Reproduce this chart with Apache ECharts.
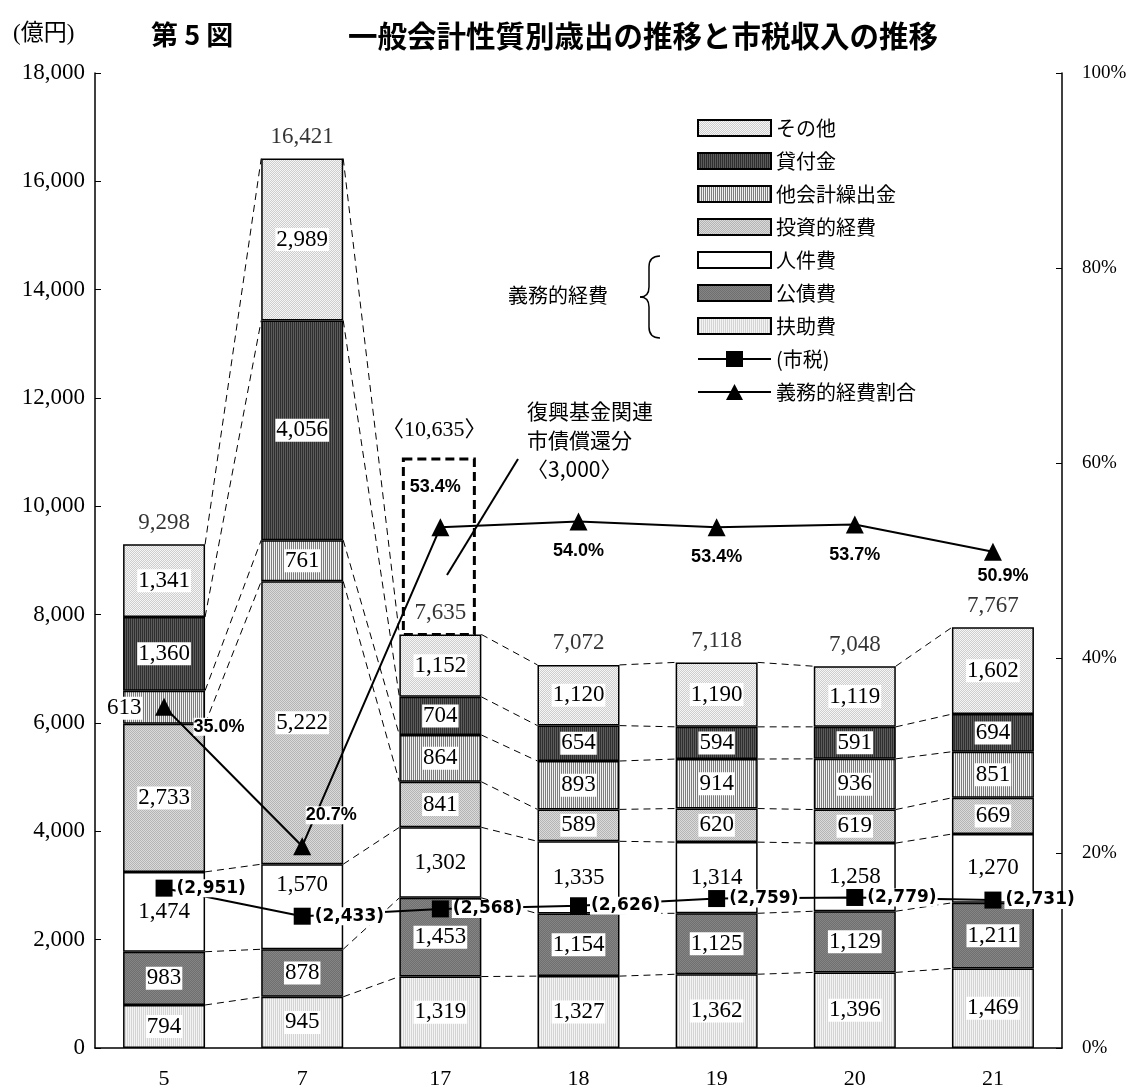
<!DOCTYPE html>
<html>
<head>
<meta charset="utf-8">
<title>第5図 一般会計性質別歳出の推移と市税収入の推移</title>
<script src="https://cdn.jsdelivr.net/npm/echarts@6/dist/echarts.min.js"></script>
<style>
  html, body { margin: 0; padding: 0; background: #fff; }
  #chart { width: 1136px; height: 1090px; }
</style>
</head>
<body>
<div id="chart"></div>
<script>
// 年度
const categories = ['5', '7', '17', '18', '19', '20', '21']
// 性質別歳出（億円） 下から積み上げ
const fujohi = [794, 945, 1319, 1327, 1362, 1396, 1469]
const kosaihi = [983, 878, 1453, 1154, 1125, 1129, 1211]
const jinkenhi = [1474, 1570, 1302, 1335, 1314, 1258, 1270]
const toshiteki = [2733, 5222, 841, 589, 620, 619, 669]
const kuridashi = [613, 761, 864, 893, 914, 936, 851]
const kashitsuke = [1360, 4056, 704, 654, 594, 591, 694]
const sonota = [1341, 2989, 1152, 1120, 1190, 1119, 1602]
const totals = [9298, 16421, 7635, 7072, 7118, 7048, 7767]
// 市税（億円）と義務的経費割合（%）
const shizei = [2951, 2433, 2568, 2626, 2759, 2779, 2731]
const gimuRatio = [35.0, 20.7, 53.4, 54.0, 53.4, 53.7, 50.9]
// 復興基金関連市債償還分
const fukkoYear = '17'
const fukkoAmount = 3000
const fukkoTotal = 10635
// 軸
const yMax = 18000
const yStep = 2000
const pctMax = 100
const pctStep = 20

const barW = 82
const serif = "'Liberation Serif', 'Noto Sans CJK JP', serif"
const jp = "'Noto Sans CJK JP', sans-serif"
const sans = "'Liberation Sans', Arial, sans-serif"
const sansWide = "'DejaVu Sans', sans-serif"

function fmt(v) {
  return String(v).replace(/\B(?=(\d{3})+(?!\d))/g, ',')
}

function pattern(w, h, cells) {
  const c = document.createElement('canvas')
  c.width = w
  c.height = h
  const ctx = c.getContext('2d')
  for (let y = 0; y < h; y++) {
    for (let x = 0; x < w; x++) {
      ctx.fillStyle = cells[y][x]
      ctx.fillRect(x, y, 1, 1)
    }
  }
  return { image: c, repeat: 'repeat' }
}

const fills = {
  fujohi: pattern(2, 1, [['#f4f4f4', '#d4d4d4']]),
  kosaihi: pattern(2, 2, [['#858585', '#6f6f6f'], ['#6f6f6f', '#858585']]),
  jinkenhi: '#ffffff',
  toshiteki: pattern(2, 2, [['#b4b4b4', '#dadada'], ['#dadada', '#b4b4b4']]),
  kuridashi: pattern(2, 1, [['#f0f0f0', '#7c7c7c']]),
  kashitsuke: pattern(2, 1, [['#2e2e2e', '#5c5c5c']]),
  sonota: pattern(2, 2, [['#f6f6f6', '#cdcdcd'], ['#cdcdcd', '#f6f6f6']]),
}

const stackDefs = [
  { name: '扶助費', data: fujohi, color: fills.fujohi },
  { name: '公債費', data: kosaihi, color: fills.kosaihi },
  { name: '人件費', data: jinkenhi, color: fills.jinkenhi },
  { name: '投資的経費', data: toshiteki, color: fills.toshiteki },
  { name: '他会計繰出金', data: kuridashi, color: fills.kuridashi },
  { name: '貸付金', data: kashitsuke, color: fills.kashitsuke },
  { name: 'その他', data: sonota, color: fills.sonota },
]

// 各年度の積み上げ上端（系列線用）
const cumulative = categories.map((c, i) => {
  let s = 0
  return stackDefs.map(d => (s += d.data[i]))
})

const barLabel = {
  show: true,
  position: 'inside',
  fontFamily: serif,
  fontSize: 23,
  color: '#000',
  backgroundColor: '#fff',
  padding: [0, 1, 0, 1],
  formatter: p => fmt(p.value),
}

// 個別にずらすラベル
const labelTweaks = {
  '他会計繰出金:0': { position: 'insideLeft', offset: [-22, 1] },
  '人件費:1': { offset: [0, -22] },
}

const barSeries = stackDefs.map(d => ({
  name: d.name,
  type: 'bar',
  stack: 'total',
  barWidth: barW,
  z: 3,
  itemStyle: { color: d.color, borderColor: '#000', borderWidth: 1.5 },
  label: barLabel,
  data: d.data.map((v, i) => {
    const tweak = labelTweaks[d.name + ':' + i]
    return tweak ? { value: v, label: tweak } : v
  }),
}))

// 系列線（破線）
const connectorSeries = {
  type: 'custom',
  silent: true,
  z: 1,
  data: categories.slice(0, -1).map((c, i) => [i]),
  encode: { x: 0 },
  renderItem: (params, api) => {
    const i = api.value(0)
    const children = cumulative[i].map((v, k) => {
      const p0 = api.coord([i, v])
      const p1 = api.coord([i + 1, cumulative[i + 1][k]])
      return {
        type: 'line',
        shape: { x1: p0[0] + barW / 2, y1: p0[1], x2: p1[0] - barW / 2, y2: p1[1] },
        style: { stroke: '#000', lineWidth: 1, lineDash: [7, 5] },
      }
    })
    return { type: 'group', children }
  },
}

// 復興基金関連市債償還分の破線枠
const fukkoIdx = categories.indexOf(fukkoYear)
const fukkoSeries = {
  type: 'custom',
  silent: true,
  z: 6,
  data: [[fukkoIdx, fukkoTotal - fukkoAmount, fukkoTotal]],
  encode: { x: 0, y: [1, 2] },
  renderItem: (params, api) => {
    const lo = api.coord([api.value(0), api.value(1)])
    const hi = api.coord([api.value(0), api.value(2)])
    return {
      type: 'group',
      children: [
        {
          type: 'rect',
          shape: { x: lo[0] - 37, y: hi[1] - 13, width: 71, height: lo[1] - hi[1] + 13 },
          style: { fill: 'none', stroke: '#000', lineWidth: 3, lineDash: [9, 5] },
        },
        {
          type: 'text',
          x: lo[0] - 6,
          y: hi[1] - 42,
          style: {
            text: '〈' + fmt(api.value(2)) + '〉',
            font: '22px ' + serif,
            fill: '#000',
            align: 'center',
            verticalAlign: 'middle',
          },
        },
      ],
    }
  },
}

const totalSeries = {
  type: 'scatter',
  symbolSize: 0,
  silent: true,
  z: 4,
  label: {
    show: true,
    position: 'top',
    distance: 10,
    fontFamily: serif,
    fontSize: 23,
    color: '#000',
    formatter: p => fmt(p.value),
  },
  data: totals,
}

const shizeiSeries = {
  name: '(市税)',
  type: 'line',
  z: 8,
  symbol: 'rect',
  symbolSize: 17,
  itemStyle: { color: '#000' },
  lineStyle: { color: '#000', width: 2 },
  label: {
    show: true,
    position: 'right',
    distance: 3,
    fontFamily: sansWide,
    fontWeight: 'bold',
    fontSize: 17,
    color: '#000',
    backgroundColor: '#fff',
    padding: [1, 1, 0, 1],
    formatter: p => '(' + fmt(p.value) + ')',
  },
  data: shizei,
}

// 割合ラベルの位置（マーカーからのずれ）
const ratioOffsets = [[55, 20], [29, -31], [-5, -40], [0, 30], [0, 30], [0, 31], [10, 24]]
const ratioSeries = {
  name: '義務的経費割合',
  type: 'line',
  yAxisIndex: 1,
  z: 8,
  symbol: 'triangle',
  symbolSize: 18,
  itemStyle: { color: '#000' },
  lineStyle: { color: '#000', width: 2 },
  label: {
    show: true,
    position: 'inside',
    fontFamily: sans,
    fontWeight: 'bold',
    fontSize: 18,
    color: '#000',
    formatter: p => p.value.toFixed(1) + '%',
  },
  data: gimuRatio.map((v, i) => ({
    value: v,
    label: { offset: ratioOffsets[i], backgroundColor: i < 2 ? '#fff' : 'transparent' },
  })),
}

// 義務的経費の括弧
const brace = [
  { type: 'bezierCurve', shape: { x1: 660, y1: 256, cpx1: 649, cpy1: 256, x2: 649, y2: 267 } },
  { type: 'line', shape: { x1: 649, y1: 267, x2: 649, y2: 287 } },
  { type: 'bezierCurve', shape: { x1: 649, y1: 287, cpx1: 649, cpy1: 297, x2: 640, y2: 297 } },
  { type: 'bezierCurve', shape: { x1: 640, y1: 297, cpx1: 649, cpy1: 297, x2: 649, y2: 307 } },
  { type: 'line', shape: { x1: 649, y1: 307, x2: 649, y2: 327 } },
  { type: 'bezierCurve', shape: { x1: 649, y1: 327, cpx1: 649, cpy1: 338, x2: 660, y2: 338 } },
].map(e => Object.assign(e, { style: { fill: 'none', stroke: '#000', lineWidth: 1.5 } }))

// 凡例アイコン（線＋大きめの記号）
const squareIcon = 'path://M0,7L28,7L28,0L45,0L45,7L73,7L73,9L45,9L45,16L28,16L28,9L0,9Z'
const triangleIcon = 'path://M0,7L32.8,7L36.5,0L40.2,7L73,7L73,9L41.3,9L45,16L28,16L31.7,9L0,9Z'
const legendNames = ['その他', '貸付金', '他会計繰出金', '投資的経費', '人件費', '公債費', '扶助費']

const chart = echarts.init(document.getElementById('chart'))
chart.setOption({
  animation: false,
  backgroundColor: '#fff',
  title: [
    {
      text: '第 5 図',
      left: 146,
      top: 16,
      textStyle: { fontFamily: jp, fontSize: 27, fontWeight: 'bold', color: '#000' },
    },
    {
      text: '一般会計性質別歳出の推移と市税収入の推移',
      left: 343,
      top: 16,
      textStyle: { fontFamily: jp, fontSize: 29.5, fontWeight: 'bold', color: '#000' },
    },
  ],
  grid: { left: 95, right: 74, top: 73, bottom: 42 },
  legend: {
    orient: 'vertical',
    left: 697,
    top: 118,
    padding: 0,
    itemWidth: 73,
    itemHeight: 16,
    itemGap: 13,
    selectedMode: false,
    textStyle: { fontFamily: jp, fontSize: 20, color: '#000', lineHeight: 20 },
    data: legendNames.map(n => ({ name: n, icon: 'rect' })).concat([
      { name: '(市税)', icon: squareIcon, itemStyle: { color: '#000', borderWidth: 0 } },
      { name: '義務的経費割合', icon: triangleIcon, itemStyle: { color: '#000', borderWidth: 0 } },
    ]),
  },
  xAxis: {
    type: 'category',
    data: categories,
    axisLine: { lineStyle: { color: '#000', width: 1.5 } },
    axisTick: { inside: true, length: 6, lineStyle: { color: '#000' } },
    axisLabel: { margin: 20, fontFamily: serif, fontSize: 22, color: '#000' },
  },
  yAxis: [
    {
      type: 'value',
      min: 0,
      max: yMax,
      interval: yStep,
      splitLine: { show: false },
      axisLine: { show: true, lineStyle: { color: '#000', width: 1.5 } },
      axisTick: { show: true, inside: true, length: 6, lineStyle: { color: '#000' } },
      axisLabel: { margin: 10, fontFamily: serif, fontSize: 23, color: '#000', formatter: v => fmt(v) },
    },
    {
      type: 'value',
      min: 0,
      max: pctMax,
      interval: pctStep,
      splitLine: { show: false },
      axisLine: { show: true, lineStyle: { color: '#000', width: 1.5 } },
      axisTick: { show: true, inside: true, length: 6, lineStyle: { color: '#000' } },
      axisLabel: { margin: 20, fontFamily: serif, fontSize: 19, color: '#000', formatter: '{value}%' },
    },
  ],
  graphic: [
    {
      type: 'text',
      left: 13,
      top: 22,
      style: { text: '(億円)', font: '23px ' + serif, fill: '#000' },
    },
    {
      type: 'text',
      left: 508,
      top: 285,
      style: { text: '義務的経費', font: '20px ' + jp, fill: '#000' },
    },
    { type: 'group', children: brace },
    {
      type: 'text',
      left: 527,
      top: 397,
      style: {
        text: '復興基金関連\n市債償還分\n〈' + fmt(fukkoAmount) + '〉',
        font: '21px ' + jp,
        lineHeight: 29,
        fill: '#000',
      },
    },
    {
      type: 'line',
      z: 10,
      shape: { x1: 447, y1: 575, x2: 518, y2: 459 },
      style: { stroke: '#000', lineWidth: 2 },
    },
  ],
  series: [connectorSeries, ...barSeries, totalSeries, fukkoSeries, shizeiSeries, ratioSeries],
})
</script>
</body>
</html>
